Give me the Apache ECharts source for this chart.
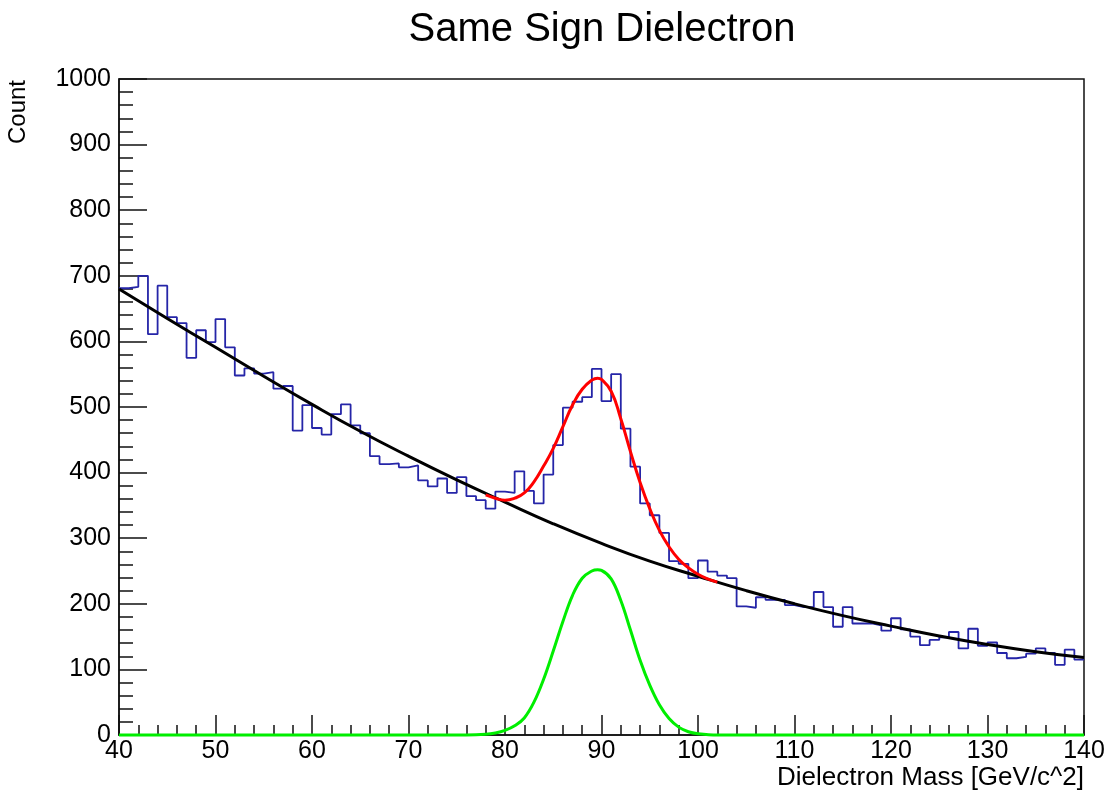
<!DOCTYPE html>
<html>
<head>
<meta charset="utf-8">
<title>Same Sign Dielectron</title>
<script src="https://cdn.jsdelivr.net/npm/echarts@6.0.0/dist/echarts.min.js"></script>
<style>
  html, body { margin: 0; padding: 0; background: #fff; }
  #chart { width: 1110px; height: 796px; }
</style>
</head>
<body>
<div id="chart"></div>
<script>
// histogram: 1 GeV bins from 40 to 140, counts
const binLow = 40;
const counts = [
  681, 683, 700, 611, 685, 637, 628, 575, 617, 599,
  634, 591, 548, 559, 551, 553, 528, 532, 464, 503,
  468, 458, 489, 504, 472, 460, 425, 413, 414, 408,
  411, 388, 379, 391, 369, 393, 364, 358, 345, 371,
  369, 402, 372, 353, 397, 442, 499, 508, 515, 558,
  509, 550, 467, 409, 353, 335, 308, 265, 261, 239,
  266, 249, 243, 239, 196, 194, 210, 206, 206, 198,
  195, 195, 218, 195, 165, 195, 170, 170, 167, 159,
  178, 161, 150, 137, 145, 149, 157, 132, 162, 136,
  141, 125, 117, 119, 124, 132, 125, 107, 130, 115
];

// background fit (black)
const bgMass = [40, 45, 50, 55, 60, 65, 70, 75, 80, 85, 90, 95, 100, 105, 110, 115, 120, 125, 130, 135, 140];
const bgCount = [680, 635, 591, 547, 504, 463, 425, 389, 355, 322, 292, 265, 242, 220, 200, 182, 166, 151, 138, 127, 118];

// total fit (red)
const fitMass = [78, 79, 80, 81, 82, 83, 84, 85, 86, 87, 88, 89, 89.6, 90, 91, 92, 93, 94, 95, 96, 97, 98, 99, 100, 101, 102];
const fitCount = [366, 361, 358, 361, 369, 386, 410, 437, 470, 503, 527, 541, 544, 542, 524, 482, 432, 385, 345, 312, 287, 268, 255, 245, 238, 233];

// signal peak (green)
const sigMass = [40, 76, 78, 79, 80, 81, 82, 83, 84, 85, 86, 87, 88, 89, 89.6, 90, 91, 92, 93, 94, 95, 96, 97, 98, 99, 100, 102, 140];
const sigCount = [0, 0, 1, 3, 7, 14, 26, 50, 85, 128, 173, 213, 239, 250, 252, 251, 238, 205, 160, 114, 76, 46, 25, 12, 5, 2, 0, 0];

const font = 'Liberation Sans, Arial, Helvetica, sans-serif';

function pairs(xs, ys) {
  return xs.map((x, i) => [x, ys[i]]);
}

const histData = counts.map((c, i) => [binLow + i, c]);
// close the last bin at its upper edge
histData.push([binLow + counts.length, counts[counts.length - 1]]);

const option = {
  animation: false,
  backgroundColor: '#fff',
  title: {
    text: 'Same Sign Dielectron',
    left: 597,
    top: 5,
    textAlign: 'center',
    textStyle: { fontFamily: font, fontSize: 40, fontWeight: 'normal', color: '#000' }
  },
  grid: {
    left: 119,
    right: 26,
    top: 79,
    bottom: 61,
    show: true,
    borderColor: '#111',
    borderWidth: 1.5
  },
  xAxis: {
    type: 'value',
    min: 40,
    max: 140,
    interval: 10,
    name: 'Dielectron Mass [GeV/c^2]',
    nameLocation: 'end',
    nameGap: 0,
    nameTextStyle: {
      fontFamily: font, fontSize: 26, color: '#000',
      align: 'right', verticalAlign: 'top', padding: [30, 0, 0, 0]
    },
    axisLine: { lineStyle: { color: '#111', width: 1.5 } },
    axisTick: { inside: true, length: 20, lineStyle: { color: '#111', width: 1.5 } },
    minorTick: { show: true, splitNumber: 5, length: 10, lineStyle: { color: '#111', width: 1.5 } },
    axisLabel: { fontFamily: font, fontSize: 25, color: '#000', margin: 4 },
    splitLine: { show: false }
  },
  yAxis: {
    type: 'value',
    min: 0,
    max: 1000,
    interval: 100,
    axisLine: { show: true, lineStyle: { color: '#111', width: 1.5 } },
    axisTick: { show: true, inside: true, length: 28, lineStyle: { color: '#111', width: 1.5 } },
    minorTick: { show: true, splitNumber: 5, length: 14, lineStyle: { color: '#111', width: 1.5 } },
    axisLabel: {
      fontFamily: font, fontSize: 25, color: '#000', margin: 8,
      formatter: function (v) { return String(v); }
    },
    splitLine: { show: false }
  },
  graphic: [
    {
      type: 'text',
      left: 6,
      top: 80,
      rotation: Math.PI / 2,
      style: { text: 'Count', font: '24px ' + font, fill: '#000' }
    }
  ],
  series: [
    {
      name: 'histogram',
      type: 'line',
      step: 'end',
      data: histData,
      symbol: 'none',
      lineStyle: { color: '#2525a8', width: 1.8 }
    },
    {
      name: 'background',
      type: 'line',
      smooth: true,
      data: pairs(bgMass, bgCount),
      symbol: 'none',
      lineStyle: { color: '#000', width: 3 }
    },
    {
      name: 'signal',
      type: 'line',
      smooth: 0.4,
      clip: false,
      data: pairs(sigMass, sigCount),
      symbol: 'none',
      lineStyle: { color: '#00ee00', width: 3 }
    },
    {
      name: 'fit',
      type: 'line',
      smooth: true,
      data: pairs(fitMass, fitCount),
      symbol: 'none',
      lineStyle: { color: '#ff0000', width: 3 }
    }
  ]
};

const myChart = echarts.init(document.getElementById('chart'));
myChart.setOption(option);
window.addEventListener('resize', function () {
  myChart.resize();
});
</script>
</body>
</html>
